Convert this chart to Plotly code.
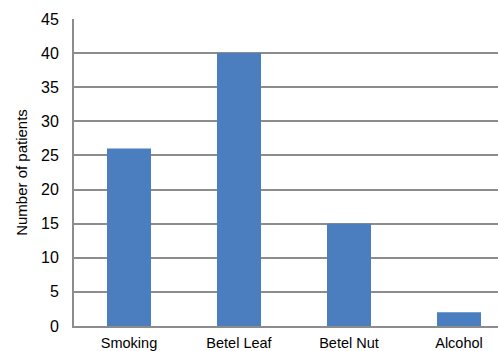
import plotly.graph_objects as go

categories = ["Smoking", "Betel Leaf", "Betel Nut", "Alcohol"]
patients = [26, 40, 15, 2]
y_ticks = [0, 5, 10, 15, 20, 25, 30, 35, 40, 45]

fig = go.Figure()
fig.add_trace(go.Bar(
    x=list(range(len(categories))), y=patients,
    width=0.4, marker=dict(color="#4a7ebf", line=dict(width=0)),
))

font = dict(family="Liberation Sans, Arial, sans-serif", size=15, color="#000000")
fig.update_layout(
    width=498, height=351,
    margin=dict(l=74, r=0, t=19, b=25),
    plot_bgcolor="white", paper_bgcolor="white",
    showlegend=False, font=font,
    xaxis=dict(
        range=[-0.5, 3.3545], tickvals=list(range(len(categories))), ticktext=categories,
        showgrid=False, showline=True, linecolor="#8c8c8c", linewidth=2,
        ticks="", zeroline=False, tickfont=dict(size=14.5), ticklabelstandoff=3,
    ),
    yaxis=dict(
        range=[0, 45], tickvals=y_ticks, showgrid=True, gridcolor="#8c8c8c", gridwidth=2,
        showline=True, linecolor="#8c8c8c", linewidth=2, ticks="", ticklen=0,
        zeroline=False, tickfont=dict(size=16), ticklabelstandoff=10,
        title=dict(text="Number of patients", font=dict(size=15), standoff=10),
    ),
)

fig.write_html("out.html")
